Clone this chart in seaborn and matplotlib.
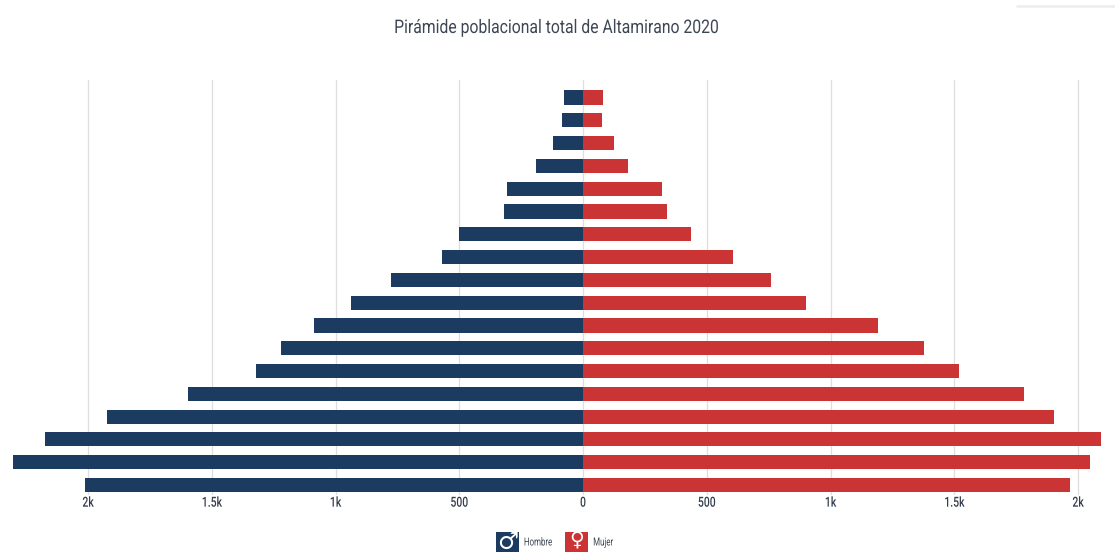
import matplotlib
matplotlib.use("Agg")
import matplotlib.pyplot as plt
from matplotlib.patches import Rectangle
from matplotlib.lines import Line2D
from matplotlib.patheffects import AbstractPathEffect
from matplotlib.transforms import Affine2D
import pandas as pd
import seaborn as sns

# age groups, oldest at the top of the pyramid
grupos = ["85+", "80-84", "75-79", "70-74", "65-69", "60-64", "55-59", "50-54", "45-49",
          "40-44", "35-39", "30-34", "25-29", "20-24", "15-19", "10-14", "5-9", "0-4"]
hombres = [77, 85, 121, 190, 307, 319, 499, 570, 776, 937, 1087, 1220, 1321, 1596, 1923, 2174, 2303, 2014]
mujeres = [81, 75, 125, 182, 319, 339, 436, 606, 760, 901, 1192, 1378, 1519, 1782, 1903, 2093, 2048, 1966]
tick_vals = [-2000, -1500, -1000, -500, 0, 500, 1000, 1500, 2000]
tick_labels = ["2k", "1.5k", "1k", "500", "0", "500", "1k", "1.5k", "2k"]

AZUL = "#1b3b60"
ROJO = "#cb3434"
TEXTO = "#3d4654"


class Estrecho(AbstractPathEffect):
    # no condensed font installed, so squeeze the glyphs around the text centre
    def __init__(self, factor):
        super().__init__()
        self.factor = factor

    def draw_path(self, renderer, gc, tpath, affine, rgbFace=None):
        ext = tpath.get_extents()
        c = (ext.x0 + ext.x1) / 2
        squeeze = Affine2D().translate(-c, 0).scale(self.factor, 1).translate(c, 0)
        renderer.draw_path(gc, tpath, squeeze + affine, rgbFace)


sns.set_theme(style="white")
plt.rcParams["font.family"] = ["Roboto", "DejaVu Sans"]

W, H = 1115, 552
fig = plt.figure(figsize=(W / 100, H / 100), dpi=100)
ax = fig.add_axes([0, (H - 495) / H, 1, (495 - 80) / H])

df = pd.DataFrame({"grupo": grupos, "hombres": [-v for v in hombres], "mujeres": mujeres})
sns.barplot(data=df, y="grupo", x="hombres", color=AZUL, saturation=1, width=0.62, orient="h",
            linewidth=0, ax=ax, zorder=3)
sns.barplot(data=df, y="grupo", x="mujeres", color=ROJO, saturation=1, width=0.62, orient="h",
            linewidth=0, ax=ax, zorder=3)

# 0 sits at x=583 px, 2k is 495 px away
ax.set_xlim(-583 / 0.2475, (W - 583) / 0.2475)
ax.set_ylim(17.44, -0.77)
ax.set_xticks(tick_vals)
ax.set_xticklabels(tick_labels, fontsize=10, color="#343d4b", fontweight="medium")
for lab in ax.get_xticklabels():
    lab.set_path_effects([Estrecho(0.75)])
ax.set_yticks([])
ax.set_xlabel("")
ax.set_ylabel("")
ax.grid(axis="x", color="#dedede", linewidth=0.9, zorder=0)
ax.set_axisbelow(True)
ax.tick_params(axis="x", length=0, pad=0.5)
sns.despine(ax=ax, left=True, bottom=True, top=True, right=True)

titulo = fig.text(556.5 / W, 1 - 28 / H, "Pirámide poblacional total de Altamirano 2020",
                  ha="center", va="center", fontsize=13.5, color=TEXTO)
titulo.set_path_effects([Estrecho(0.84)])

# leyenda: cuadros con simbolo, cortados por el borde inferior
for x0, color, simbolo, nombre, y_sim, tam in [(496, AZUL, "♂", "Hombre", 542, 17), (565, ROJO, "♀", "Mujer", 541, 14.5)]:
    fig.add_artist(Rectangle((x0 / W, 0), 23 / W, 20.5 / H, transform=fig.transFigure,
                             facecolor=color, edgecolor="none"))
    fig.text((x0 + 11.5) / W, 1 - y_sim / H, simbolo, ha="center", va="center", fontsize=tam,
             color="white", family="DejaVu Sans", fontweight="bold")
    etiqueta = fig.text((x0 + 42 if nombre == "Hombre" else x0 + 38) / W, 1 - 542.5 / H, nombre,
                        ha="center", va="center", fontsize=8, color=TEXTO)
    etiqueta.set_path_effects([Estrecho(0.71)])

# linea gris suelta arriba a la derecha
fig.add_artist(Line2D([1017 / W, 1], [1 - 6 / H, 1 - 6 / H], transform=fig.transFigure,
                      color="#eceff2", linewidth=2))

fig.savefig("out.png", dpi=100, facecolor="white")
